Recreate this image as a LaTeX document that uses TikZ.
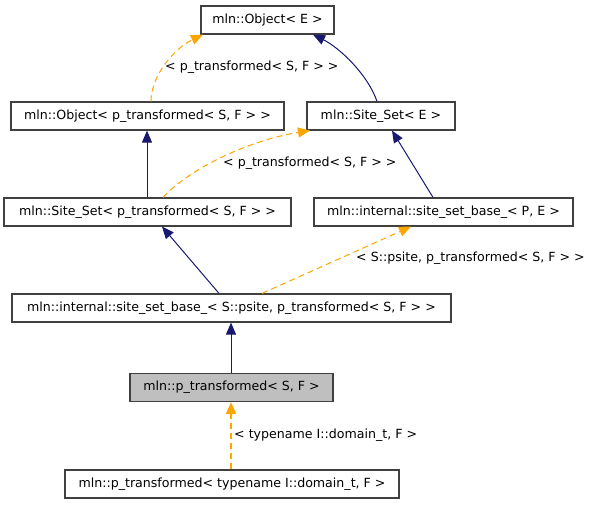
\documentclass[tikz,border=0pt]{standalone}
\usepackage{fontspec}
\setmainfont{DejaVu Sans}
\usetikzlibrary{arrows.meta}
\definecolor{navy}{HTML}{191970}
\definecolor{orng}{HTML}{FFA500}
\definecolor{boxline}{HTML}{404040}
\tikzset{
  cls/.style={draw=boxline, line width=1.2pt, fill=white, rectangle, inner sep=0pt,
    font=\fontsize{12.6}{14}\selectfont, minimum height=28pt},
  inh/.style={draw=navy, line width=1pt, -{Triangle[length=12pt,width=10pt]}},
  tpl/.style={draw=orng, line width=1pt, dash pattern=on 6pt off 4pt, -{Triangle[length=12pt,width=10pt]}},
  lbl/.style={font=\fontsize{12.6}{14}\selectfont, inner sep=0pt, anchor=west}
}
\begin{document}
\begin{tikzpicture}[x=1pt,y=-1pt]
\useasboundingbox (0,0) rectangle (596,504);
\node[cls, minimum width=133pt] (b1) at (267.5,20) {mln::Object< E >};
\node[cls, minimum width=273pt] (b2) at (147.5,116) {mln::Object< p\_transformed< S, F > >};
\node[cls, minimum width=148pt] (b3) at (381,116) {mln::Site\_Set< E >};
\node[cls, minimum width=287pt] (b4) at (147.5,212) {mln::Site\_Set< p\_transformed< S, F > >};
\node[cls, minimum width=259pt] (b5) at (443.5,212) {mln::internal::site\_set\_base\_< P, E >};
\node[cls, minimum width=439pt] (b6) at (231.5,308) {mln::internal::site\_set\_base\_< S::psite, p\_transformed< S, F > >};
\node[cls, minimum width=203pt, fill={rgb,255:red,191;green,191;blue,191}] (b7) at (231.5,387.5) {mln::p\_transformed< S, F >};
\node[cls, minimum width=334pt] (b8) at (232,484) {mln::p\_transformed< typename I::domain\_t, F >};

% b2 -> b1 (template)
\draw[tpl] (b2.north -| 151,0) .. controls (151,75) and (175,48) .. (b1.south west -| 203,0);
\node[lbl] (l1) at (165,67) {< p\_transformed< S, F > >};
% b3 -> b1
\draw[inh] (b3.north -| 377,0) .. controls (368,75) and (340,48) .. (b1.south -| 313,0);
% b4 -> b2
\draw[inh] (b4.north -| 147,0) -- (b2.south -| 147,0);
% b4 -> b3 (template)
\draw[tpl] (b4.north -| 163,0) .. controls (190,168) and (250,140) .. (b3.south west -| 310,0);
\node[lbl] (l2) at (223,163) {< p\_transformed< S, F > >};
% b5 -> b3
\draw[inh] (b5.north -| 433,0) -- (b3.south -| 392,0);
% b6 -> b4
\draw[inh] (b6.north -| 219,0) -- (b4.south -| 162,0);
% b6 -> b5 (template)
\draw[tpl] (b6.north -| 262,0) -- (b5.south -| 411,0);
\node[lbl] (l3) at (356,258) {< S::psite, p\_transformed< S, F > >};
% b7 -> b6
\draw[inh] (b7.north -| 231,0) -- (b6.south -| 231,0);
% b8 -> b7 (template)
\draw[tpl, line width=1.6pt] (b8.north -| 231,0) -- (b7.south -| 231,0);
\node[lbl] (l4) at (234,435) {< typename I::domain\_t, F >};
\end{tikzpicture}
\end{document}
